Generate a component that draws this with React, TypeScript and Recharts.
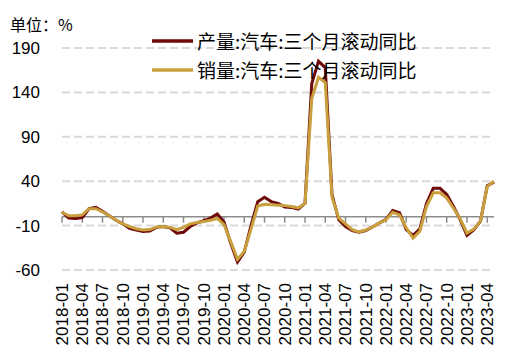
import React from 'react';
import { LineChart, Line, XAxis, YAxis, CartesianGrid, ReferenceLine, Legend } from 'recharts';

const months = [
  '2018-01', '2018-02', '2018-03', '2018-04', '2018-05', '2018-06', '2018-07', '2018-08', '2018-09', '2018-10', '2018-11', '2018-12',
  '2019-01', '2019-02', '2019-03', '2019-04', '2019-05', '2019-06', '2019-07', '2019-08', '2019-09', '2019-10', '2019-11', '2019-12',
  '2020-01', '2020-02', '2020-03', '2020-04', '2020-05', '2020-06', '2020-07', '2020-08', '2020-09', '2020-10', '2020-11', '2020-12',
  '2021-01', '2021-02', '2021-03', '2021-04', '2021-05', '2021-06', '2021-07', '2021-08', '2021-09', '2021-10', '2021-11', '2021-12',
  '2022-01', '2022-02', '2022-03', '2022-04', '2022-05', '2022-06', '2022-07', '2022-08', '2022-09', '2022-10', '2022-11', '2022-12',
  '2023-01', '2023-02', '2023-03', '2023-04', '2023-05',
];

// 产量:汽车:三个月滚动同比 (%)
const production = [
  5.5, -1.5, -2, -1, 9, 10.5, 6, 1, -4, -8, -13, -15,
  -16.5, -16, -12, -11, -12.5, -18.5, -17.5, -11, -7, -4.5, -1.5, 3,
  -6, -30, -51, -40, -10, 17, 22, 17, 15, 11, 10.5, 8.5,
  15, 150, 175, 168, 25, -3.5, -11, -15.5, -17.5, -15.5, -11.5, -7,
  -3, 7, 4.5, -14.5, -21, -14, 15, 32, 32, 25, 11.5, -3.5,
  -21, -15, -5, 35, 39,
];

// 销量:汽车:三个月滚动同比 (%)
const sales = [
  5, 1, 1, 2, 9, 9, 5.5, 1, -4, -8, -11, -13.5,
  -15, -14.5, -11.5, -11, -12, -14.5, -12, -8, -6.5, -5.5, -4, -2,
  -9, -28, -48, -39, -14, 12, 14, 13.5, 13, 12.5, 11.5, 10,
  15, 133, 157, 151, 22, -1.5, -8, -14.5, -17, -15, -11.5, -7,
  -3.5, 5, 2, -12.5, -24, -16.5, 11.5, 27, 27, 21, 9.5, -2.5,
  -18.5, -14, -5, 34, 40,
];

const yTicks = [-60, -10, 40, 90, 140, 190];

const series = [
  { key: 'production', name: '产量:汽车:三个月滚动同比', color: '#6E0A0A' },
  { key: 'sales', name: '销量:汽车:三个月滚动同比', color: '#C9A03D' },
];

const data = months.map((month, i) => ({ month, production: production[i], sales: sales[i] }));

// every 3rd month gets a label and a tick mark on the zero line
const tickMonths = months.filter((_, i) => i % 3 === 0);

const FONT = '"Liberation Sans", Arial, "Noto Sans CJK SC", sans-serif';
const CJK = '"Noto Sans CJK SC", "Liberation Sans", sans-serif';

const XTick = ({ x, y, payload }: any) => (
  <g transform={`translate(${x},${y})`}>
    <text transform="rotate(-90)" textAnchor="end" dy="0.35em" fontSize={17} fill="#000" fontFamily={FONT}>
      {payload.value}
    </text>
  </g>
);

const LegendBox = () => (
  <div style={{ fontFamily: CJK }}>
    {series.map((s) => (
      <div key={s.key} style={{ display: 'flex', alignItems: 'center', height: 29 }}>
        <svg width={41} height={6} style={{ display: 'block' }}>
          <line x1={0} y1={3} x2={41} y2={3} stroke={s.color} strokeWidth={3.5} />
        </svg>
        <span style={{ marginLeft: 4, fontSize: 19, color: '#000', lineHeight: '29px', whiteSpace: 'nowrap' }}>{s.name}</span>
      </div>
    ))}
  </div>
);

const App = () => {
  return (
    <div style={{ position: 'relative', width: 531, height: 354, background: '#fff' }}>
      <style>{'body{margin:0}'}</style>
      <div style={{ position: 'absolute', left: 10, top: 12, fontSize: 16, fontFamily: CJK, color: '#000', zIndex: 2 }}>
        单位：%
      </div>
      <LineChart
        width={531}
        height={354}
        data={data}
        margin={{ top: 48, right: 37, left: 0, bottom: 0 }}
        style={{ fontFamily: FONT }}
      >
        <CartesianGrid vertical={false} stroke="#D9D9D9" strokeWidth={2} strokeDasharray="8 4" />
        <XAxis
          dataKey="month"
          interval={2}
          axisLine={false}
          tickLine={false}
          tickSize={0}
          tickMargin={13}
          height={84}
          tick={<XTick />}
        />
        <YAxis
          domain={[-60, 190]}
          ticks={yTicks}
          axisLine={false}
          tickLine={false}
          tickSize={0}
          tickMargin={22}
          width={62}
          tick={{ fill: '#000', fontSize: 17 }}
        />
        <ReferenceLine y={0} stroke="#8C8C8C" strokeWidth={1.5} />
        {tickMonths.map((m) => (
          <ReferenceLine
            key={m}
            segment={[{ x: m, y: 0 }, { x: m, y: -6.8 }]}
            stroke="#8C8C8C"
            strokeWidth={1.5}
            ifOverflow="visible"
          />
        ))}
        <Legend
          verticalAlign="middle"
          align="center"
          layout="horizontal"
          wrapperStyle={{ top: 26, left: 152, width: 320, height: 58 }}
          content={<LegendBox />}
        />
        {series.map((s) => (
          <Line
            key={s.key}
            type="linear"
            dataKey={s.key}
            name={s.name}
            stroke={s.color}
            strokeWidth={3}
            dot={false}
            activeDot={false}
            isAnimationActive={false}
          />
        ))}
      </LineChart>
    </div>
  );
};

export default App;
